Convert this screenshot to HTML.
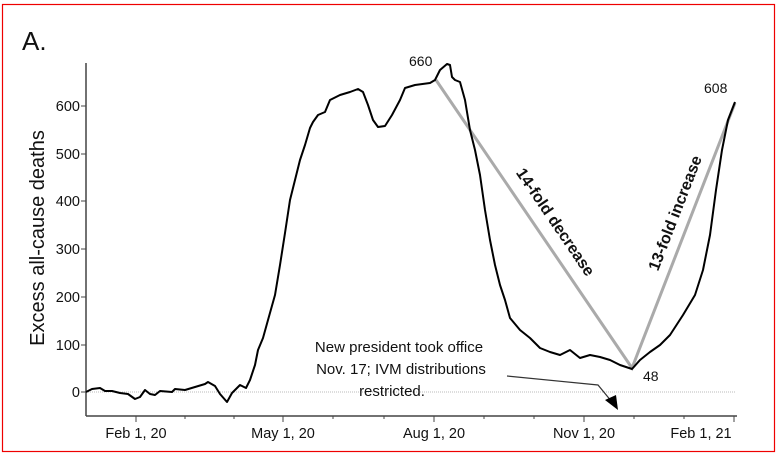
<!DOCTYPE html>
<html><head><style>body{margin:0;background:#fff}svg{display:block}text{font-family:"Liberation Sans",Arial,sans-serif;fill:#111}</style></head>
<body>
<svg width="778" height="457" viewBox="0 0 778 457">
<rect x="2.5" y="4.5" width="772" height="447" fill="none" stroke="#e00" stroke-width="1.2"/>
<text x="22" y="50" font-size="26">A.</text>
<line x1="86" y1="392" x2="736" y2="392" stroke="#bbb" stroke-dasharray="1,1"/>
<line x1="86" y1="63" x2="86" y2="416" stroke="#444" stroke-width="1.5"/>
<line x1="86" y1="416" x2="737" y2="416" stroke="#444" stroke-width="1.5"/>
<g stroke="#444" stroke-width="1">
<line x1="81" y1="106" x2="86" y2="106"/><line x1="81" y1="154" x2="86" y2="154"/><line x1="81" y1="201" x2="86" y2="201"/><line x1="81" y1="249" x2="86" y2="249"/><line x1="81" y1="297" x2="86" y2="297"/><line x1="81" y1="345" x2="86" y2="345"/><line x1="81" y1="392" x2="86" y2="392"/>
<line x1="136" y1="416" x2="136" y2="422"/><line x1="283" y1="416" x2="283" y2="422"/><line x1="434" y1="416" x2="434" y2="422"/><line x1="584" y1="416" x2="584" y2="422"/><line x1="734" y1="416" x2="734" y2="422"/>
<line x1="185" y1="416" x2="185" y2="419"/><line x1="234" y1="416" x2="234" y2="419"/><line x1="333" y1="416" x2="333" y2="419"/><line x1="384" y1="416" x2="384" y2="419"/><line x1="484" y1="416" x2="484" y2="419"/><line x1="534" y1="416" x2="534" y2="419"/><line x1="634" y1="416" x2="634" y2="419"/><line x1="684" y1="416" x2="684" y2="419"/>
</g>
<g font-size="14.5" text-anchor="end">
<text x="80" y="111">600</text><text x="80" y="159">500</text><text x="80" y="206">400</text><text x="80" y="254">300</text><text x="80" y="302">200</text><text x="80" y="350">100</text><text x="80" y="397">0</text>
</g>
<g font-size="14.5" text-anchor="middle">
<text x="136" y="438">Feb 1, 20</text><text x="283" y="438">May 1, 20</text><text x="434" y="438">Aug 1, 20</text><text x="584" y="438">Nov 1, 20</text><text x="701" y="438">Feb 1, 21</text>
</g>
<text transform="translate(44,238) rotate(-90)" font-size="20" text-anchor="middle">Excess all-cause deaths</text>
<polyline fill="none" stroke="#aaa" stroke-width="3" points="436,80 632,368 735,103"/>
<polyline fill="none" stroke="#000" stroke-width="2" stroke-linejoin="round" points="86,392 92,389 100,388 105,391 112,391 120,393 128,394 135,399 140,397 145,390 150,394 155,395 160,391 172,392 175,389 185,390 195,387 205,384 208,382 215,386 220,394 227,402 232,393 240,385 246,388 250,380 255,365 258,350 263,338 268,320 275,295 280,265 285,233 290,200 295,180 300,160 305,145 310,128 313,122 318,115 325,112 330,100 340,95 350,92 358,89 363,92 368,105 373,120 378,127 385,126 392,115 400,100 405,88 415,85 430,83 435,80 440,70 447,64 450,65 452,77 455,80 460,82 465,100 470,130 475,150 480,175 485,210 490,240 495,265 500,285 505,300 510,318 520,330 530,338 540,348 550,352 560,355 570,350 580,358 590,355 600,357 610,360 620,365 632,369 640,360 650,352 660,345 670,335 683,315 695,295 703,270 710,235 716,190 722,150 728,120 735,102"/>
<g font-size="14"><text x="409" y="66">660</text><text x="704" y="93">608</text><text x="643" y="381">48</text></g>
<text transform="translate(551,225) rotate(55.8)" font-size="16" font-weight="bold" text-anchor="middle">14-fold decrease</text>
<text transform="translate(680,215) rotate(-68.8)" font-size="16" font-weight="bold" text-anchor="middle">13-fold increase</text>
<g font-size="15" text-anchor="middle" fill="#222"><text x="399" y="352">New president took office</text><text x="401" y="374">Nov. 17; IVM distributions</text><text x="392" y="396">restricted.</text></g>
<polyline fill="none" stroke="#333" stroke-width="1.2" points="507,376 598,385 612,402"/>
<polygon points="618,410 605,400 616,395" fill="#000"/>
</svg>
</body></html>
